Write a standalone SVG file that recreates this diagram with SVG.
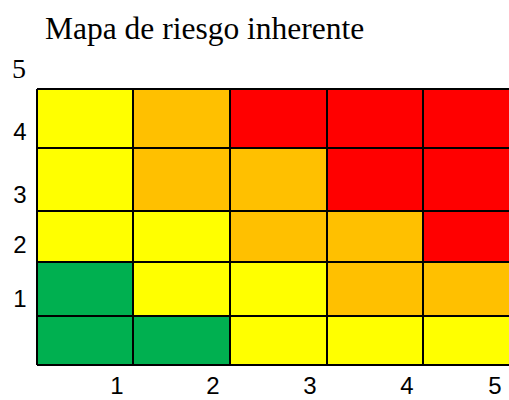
<svg xmlns="http://www.w3.org/2000/svg" width="509" height="400" viewBox="0 0 509 400">
<style>
.y{fill:#FFFF00}.o{fill:#FFC000}.r{fill:#FF0000}.g{fill:#00B050}
.ax{font-family:"Liberation Sans",Arial,sans-serif;font-size:24px;fill:#000;text-anchor:middle}
.sf{font-family:"Liberation Serif","Times New Roman",serif;fill:#000}
.grid{stroke:#000;stroke-width:2;fill:none}
</style>
<rect width="509" height="400" fill="#fff"/>
<text class="sf" x="45" y="38.5" font-size="31.5">Mapa de riesgo inherente</text>
<text class="sf" x="12" y="78" font-size="28">5</text>
<g id="cells">
<rect class="y" x="37" y="89" width="96" height="59"/><rect class="o" x="133" y="89" width="97" height="59"/><rect class="r" x="230" y="89" width="97" height="59"/><rect class="r" x="327" y="89" width="96" height="59"/><rect class="r" x="423" y="89" width="96" height="59"/>
<rect class="y" x="37" y="148" width="96" height="63"/><rect class="o" x="133" y="148" width="97" height="63"/><rect class="o" x="230" y="148" width="97" height="63"/><rect class="r" x="327" y="148" width="96" height="63"/><rect class="r" x="423" y="148" width="96" height="63"/>
<rect class="y" x="37" y="211" width="96" height="51"/><rect class="y" x="133" y="211" width="97" height="51"/><rect class="o" x="230" y="211" width="97" height="51"/><rect class="o" x="327" y="211" width="96" height="51"/><rect class="r" x="423" y="211" width="96" height="51"/>
<rect class="g" x="37" y="262" width="96" height="54"/><rect class="y" x="133" y="262" width="97" height="54"/><rect class="y" x="230" y="262" width="97" height="54"/><rect class="o" x="327" y="262" width="96" height="54"/><rect class="o" x="423" y="262" width="96" height="54"/>
<rect class="g" x="37" y="316" width="96" height="49"/><rect class="g" x="133" y="316" width="97" height="49"/><rect class="y" x="230" y="316" width="97" height="49"/><rect class="y" x="327" y="316" width="96" height="49"/><rect class="y" x="423" y="316" width="96" height="49"/>
</g>
<g id="gridlines">
<path class="grid" d="M37 89H519M37 148H519M37 211H519M37 262H519M37 316H519M37 365H519M37 89V365M133 89V365M230 89V365M327 89V365M423 89V365"/>
</g>
<g id="labels">
<text class="ax" x="20" y="140">4</text>
<text class="ax" x="20" y="203">3</text>
<text class="ax" x="20" y="253">2</text>
<text class="ax" x="20" y="307">1</text>
<text class="ax" x="117" y="394">1</text>
<text class="ax" x="213" y="394">2</text>
<text class="ax" x="310" y="394">3</text>
<text class="ax" x="407" y="394">4</text>
<text class="ax" x="495" y="394">5</text>
</g>
</svg>
